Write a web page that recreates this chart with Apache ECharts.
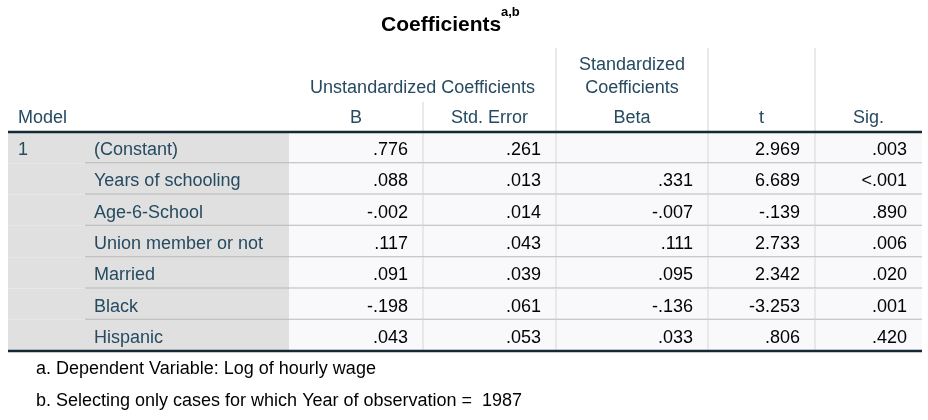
<!DOCTYPE html>
<html>
<head>
<meta charset="utf-8">
<script src="https://cdn.jsdelivr.net/npm/echarts@6/dist/echarts.min.js"></script>
<style>
  html, body { margin: 0; padding: 0; background: #fff; }
  #main { width: 928px; height: 420px; }
</style>
</head>
<body>
<div id="main"></div>
<script>
// table content
const tableTitle = 'Coefficients'
const titleNotes = 'a,b'
const modelLabel = '1'
const variables = ['(Constant)', 'Years of schooling', 'Age-6-School', 'Union member or not', 'Married', 'Black', 'Hispanic']
const coefB = [0.776, 0.088, -0.002, 0.117, 0.091, -0.198, 0.043]
const stdErrors = [0.261, 0.013, 0.014, 0.043, 0.039, 0.061, 0.053]
const betas = [null, 0.331, -0.007, 0.111, 0.095, -0.136, 0.033]
const tStats = [2.969, 6.689, -0.139, 2.733, 2.342, -3.253, 0.806]
const sigLabels = ['.003', '<.001', '.890', '.006', '.020', '.001', '.420']
const columnLabels = ['B', 'Std. Error', 'Beta', 't', 'Sig.']
const groupLabels = ['Unstandardized Coefficients', 'Standardized\nCoefficients']
const footnotes = ['a. Dependent Variable: Log of hourly wage', 'b. Selecting only cases for which Year of observation =  1987']

// layout: column edges in x-axis units (grid is 914 wide)
const colEdges = [0, 77, 281, 415, 548, 700, 807, 914]
const FONT = '"Liberation Sans", Arial, sans-serif'
const SIZE = '18px '
const HEAD = '#264a60'
const INK = '#010205'

// SPSS style: drop the leading zero
function fmt(v) {
  if (v === null || v === undefined) return ''
  return v.toFixed(3).replace(/^(-?)0\./, '$1.')
}

function renderBody(params, api) {
  const row = api.value(1)
  const mid = api.coord([0, row])
  const h = api.size([0, 1])[1]
  const top = mid[1] - h / 2
  const cy = mid[1] + 2.5
  const x = e => api.coord([e, row])[0]
  const kids = []
  // backgrounds
  kids.push({ type: 'rect', shape: { x: x(0), y: top, width: x(281) - x(0), height: h }, style: { fill: '#e0e0e0' } })
  kids.push({ type: 'rect', shape: { x: x(281), y: top, width: x(914) - x(281), height: h }, style: { fill: '#f9f9fb' } })
  // vertical rules
  ;[415, 548, 700, 807].forEach(e => {
    kids.push({ type: 'line', shape: { x1: x(e), y1: top, x2: x(e), y2: top + h }, style: { stroke: '#e2e2e2', lineWidth: 1.5 } })
  })
  // model number on first row
  if (row === 0) {
    kids.push({ type: 'text', style: { x: x(0) + 10, y: cy, text: modelLabel, font: SIZE + FONT, fill: HEAD, align: 'left', verticalAlign: 'middle' } })
  }
  kids.push({ type: 'text', style: { x: x(77) + 9, y: cy, text: variables[row], font: SIZE + FONT, fill: HEAD, align: 'left', verticalAlign: 'middle' } })
  const cells = [fmt(coefB[row]), fmt(stdErrors[row]), fmt(betas[row]), fmt(tStats[row]), sigLabels[row]]
  const rightEdges = [415, 548, 700, 807, 914]
  cells.forEach((t, k) => {
    kids.push({ type: 'text', style: { x: x(rightEdges[k]) - 15, y: cy, text: t, font: SIZE + FONT, fill: INK, align: 'right', verticalAlign: 'middle' } })
  })
  // row separator
  if (row < variables.length - 1) {
    kids.push({ type: 'line', shape: { x1: x(77), y1: top + h, x2: x(914), y2: top + h }, style: { stroke: '#b8b8b8', lineWidth: 2 } })
  } else {
    kids.push({ type: 'line', shape: { x1: x(0), y1: top + h, x2: x(914), y2: top + h }, style: { stroke: '#152935', lineWidth: 2.5 } })
  }
  return { type: 'group', children: kids }
}

function renderHeader(params, api) {
  const mid = api.coord([0, 0])
  const h = api.size([0, 1])[1]
  const gTop = mid[1] - h / 2
  const x = e => api.coord([e, 0])[0]
  const kids = []
  kids.push({ type: 'line', shape: { x1: x(415), y1: gTop - 30, x2: x(415), y2: gTop }, style: { stroke: '#e2e2e2', lineWidth: 1.5 } })
  ;[548, 700, 807].forEach(e => {
    kids.push({ type: 'line', shape: { x1: x(e), y1: gTop - 84, x2: x(e), y2: gTop }, style: { stroke: '#e2e2e2', lineWidth: 1.5 } })
  })
  kids.push({ type: 'text', style: { x: x(0) + 10, y: gTop - 13.5, text: 'Model', font: SIZE + FONT, fill: HEAD, align: 'left', verticalAlign: 'middle' } })
  columnLabels.forEach((t, k) => {
    const cx = (x(colEdges[k + 2]) + x(colEdges[k + 3])) / 2
    kids.push({ type: 'text', style: { x: cx, y: gTop - 13.5, text: t, font: SIZE + FONT, fill: HEAD, align: 'center', verticalAlign: 'middle' } })
  })
  kids.push({ type: 'text', style: { x: (x(281) + x(548)) / 2, y: gTop - 43.5, text: groupLabels[0], font: SIZE + FONT, fill: HEAD, align: 'center', verticalAlign: 'middle' } })
  kids.push({ type: 'text', style: { x: (x(548) + x(700)) / 2, y: gTop - 55.5, text: groupLabels[1], font: SIZE + FONT, lineHeight: 23, fill: HEAD, align: 'center', verticalAlign: 'middle' } })
  kids.push({ type: 'line', shape: { x1: x(0), y1: gTop, x2: x(914), y2: gTop }, style: { stroke: '#152935', lineWidth: 2.5 } })
  return { type: 'group', children: kids }
}

const chart = echarts.init(document.getElementById('main'))
chart.setOption({
  animation: false,
  backgroundColor: '#ffffff',
  grid: { left: 8, top: 132, width: 914, height: 219 },
  xAxis: { type: 'value', min: 0, max: 914, show: false },
  yAxis: { type: 'category', inverse: true, data: variables, show: false },
  graphic: [
    { type: 'text', left: 381, top: 15, style: { text: tableTitle, font: 'bold 21px ' + FONT, fill: '#000' } },
    { type: 'text', left: 501, top: 6, style: { text: titleNotes, font: 'bold 13px ' + FONT, fill: '#000' } }
  ].concat(footnotes.map((t, i) => ({
    type: 'text', left: 36, top: 360 + i * 32,
    style: { text: t, font: SIZE + FONT, fill: INK }
  }))),
  series: [
    {
      type: 'custom', silent: true, z: 2,
      renderItem: renderBody,
      encode: { x: 0, y: 1 },
      data: variables.map((v, i) => [0, i])
    },
    {
      type: 'custom', silent: true, z: 3,
      renderItem: renderHeader,
      encode: { x: 0, y: 1 },
      data: [[0, 0]]
    }
  ]
})
</script>
</body>
</html>
